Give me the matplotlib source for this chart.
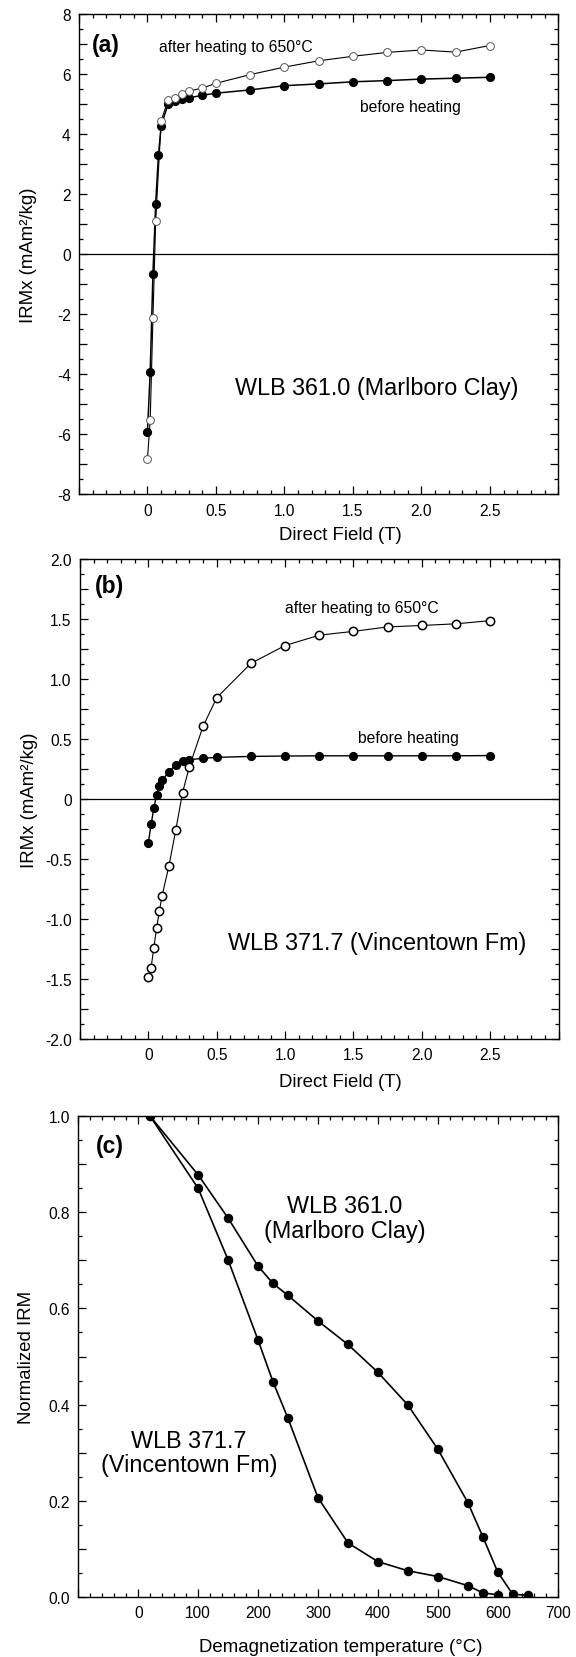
import matplotlib
matplotlib.use("Agg")
import matplotlib.pyplot as plt
from matplotlib.ticker import MultipleLocator, FuncFormatter

plt.rcParams['font.family'] = ['Liberation Sans', 'DejaVu Sans']
plt.rcParams['axes.unicode_minus'] = False

# ---------------- data ----------------
# Panel (a): WLB 361.0 (Marlboro Clay)
a_before_x = [0.0, 0.02, 0.04, 0.06, 0.08, 0.10, 0.15, 0.20, 0.25, 0.30, 0.40, 0.50,
              0.75, 1.00, 1.25, 1.50, 1.75, 2.00, 2.25, 2.50]
a_before_y = [-5.92, -3.92, -0.65, 1.69, 3.30, 4.28, 5.01, 5.11, 5.18, 5.21, 5.30, 5.37,
              5.48, 5.62, 5.68, 5.75, 5.79, 5.84, 5.87, 5.90]
a_after_x = [0.0, 0.02, 0.04, 0.06, 0.10, 0.15, 0.20, 0.25, 0.30, 0.40, 0.50,
             0.75, 1.00, 1.25, 1.50, 1.75, 2.00, 2.25, 2.50]
a_after_y = [-6.82, -5.51, -2.12, 1.11, 4.45, 5.14, 5.22, 5.36, 5.44, 5.54, 5.70,
             5.99, 6.24, 6.45, 6.60, 6.73, 6.81, 6.74, 6.96]

# Panel (b): WLB 371.7 (Vincentown Fm)
b_before_x = [0.0, 0.02, 0.04, 0.06, 0.08, 0.10, 0.15, 0.20, 0.25, 0.30, 0.40, 0.50,
              0.75, 1.00, 1.25, 1.50, 1.75, 2.00, 2.25, 2.50]
b_before_y = [-0.365, -0.21, -0.078, 0.035, 0.11, 0.155, 0.226, 0.285, 0.313, 0.328, 0.339, 0.347,
              0.355, 0.358, 0.360, 0.360, 0.360, 0.360, 0.360, 0.362]
b_after_x = [0.0, 0.02, 0.04, 0.06, 0.08, 0.10, 0.15, 0.20, 0.25, 0.30, 0.40, 0.50,
             0.75, 1.00, 1.25, 1.50, 1.75, 2.00, 2.25, 2.50]
b_after_y = [-1.48, -1.405, -1.239, -1.078, -0.936, -0.808, -0.561, -0.261, 0.053, 0.269, 0.605, 0.844,
             1.130, 1.279, 1.365, 1.397, 1.434, 1.446, 1.460, 1.486]

# Panel (c): thermal demagnetization of IRM
c_marl_t = [20, 100, 150, 200, 225, 250, 300, 350, 400, 450, 500, 550, 575, 600, 625, 650]
c_marl_m = [1.0, 0.878, 0.788, 0.688, 0.652, 0.627, 0.574, 0.525, 0.467, 0.399, 0.307,
            0.196, 0.125, 0.051, 0.005, 0.003]
c_vinc_t = [20, 100, 150, 200, 225, 250, 300, 350, 400, 450, 500, 550, 575, 600]
c_vinc_m = [1.0, 0.850, 0.701, 0.534, 0.447, 0.371, 0.206, 0.112, 0.073, 0.054, 0.042,
            0.023, 0.008, 0.004]

field_ticks = [-0.5, 0.0, 0.5, 1.0, 1.5, 2.0, 2.5, 3.0]
temp_ticks = [-100, 0, 100, 200, 300, 400, 500, 600, 700]

W, H = 576, 1658
fig = plt.figure(figsize=(W / 100, H / 100), dpi=100)


def ax_at(left, top, right, bottom):
    return fig.add_axes([left / W, 1 - bottom / H, (right - left) / W, (bottom - top) / H])


TICK_FS = 11.2
LAB_FS = 13.4
PANEL_FS = 16.5
NOTE_FS = 11.3
NAME_FS = 16.8


def style(ax):
    for s in ax.spines.values():
        s.set_linewidth(1.0)
    ax.tick_params(which='both', direction='in', top=True, right=True, width=0.9,
                   labelsize=TICK_FS, pad=6)
    ax.tick_params(which='major', length=6)
    ax.tick_params(which='minor', length=2.8)


def field_fmt(v, pos):
    if v < -0.01 or v > 2.51:
        return ''
    if abs(v) < 1e-9:
        return '0'
    return '%.1f' % v


# ---------------- (a) ----------------
axa = ax_at(79, 15.3, 558.3, 495.3)
axa.set_xlim(-0.5, 3.0)
axa.set_ylim(-8, 8)
axa.axhline(0, color='black', lw=0.9, zorder=1)
axa.plot(a_before_x, a_before_y, '-', color='black', lw=1.1, marker='o', ms=5.6,
         mfc='black', mec='black', zorder=3)
axa.plot(a_after_x, a_after_y, '-', color='black', lw=0.8, marker='o', ms=5.6,
         mfc='white', mec='#555555', mew=0.7, zorder=4)
axa.xaxis.set_major_locator(plt.FixedLocator(field_ticks))
axa.xaxis.set_major_formatter(FuncFormatter(field_fmt))
axa.xaxis.set_minor_locator(MultipleLocator(0.1))
axa.yaxis.set_major_locator(MultipleLocator(1))
axa.yaxis.set_minor_locator(MultipleLocator(0.5))
axa.yaxis.set_major_formatter(FuncFormatter(
    lambda v, p: ('%d' % round(v)) if round(v) % 2 == 0 else ''))
style(axa)
axa.text(0.0265, 0.938, '(a)', transform=axa.transAxes, fontsize=PANEL_FS,
         fontweight='bold', va='center', ha='left')
axa.text(0.086, 6.92, 'after heating to 650°C', fontsize=NOTE_FS, va='center', ha='left')
axa.text(1.55, 4.92, 'before heating', fontsize=NOTE_FS, va='center', ha='left')
axa.text(0.642, -4.44, 'WLB 361.0 (Marlboro Clay)', fontsize=NAME_FS, va='center', ha='left')
axa.set_xlabel('Direct Field (T)', fontsize=LAB_FS)
axa.set_ylabel('IRMx (mAm²/kg)', fontsize=LAB_FS)
axa.xaxis.set_label_coords(0.545, -0.067)
axa.yaxis.set_label_coords(-0.088, 0.5)

# ---------------- (b) ----------------
axb = ax_at(80, 560, 558.5, 1040)
axb.set_xlim(-0.5, 3.0)
axb.set_ylim(-2.0, 2.0)
axb.axhline(0, color='black', lw=0.9, zorder=1)
axb.plot(b_before_x, b_before_y, '-', color='black', lw=1.0, marker='o', ms=5.6,
         mfc='black', mec='black', zorder=3)
axb.plot(b_after_x, b_after_y, '-', color='black', lw=0.8, marker='o', ms=6.0,
         mfc='white', mec='black', mew=1.1, zorder=4)
axb.xaxis.set_major_locator(plt.FixedLocator(field_ticks))
axb.xaxis.set_major_formatter(FuncFormatter(field_fmt))
axb.xaxis.set_minor_locator(MultipleLocator(0.1))
axb.yaxis.set_major_locator(MultipleLocator(0.25))
axb.yaxis.set_minor_locator(MultipleLocator(0.125))


def bfmt(v, p):
    k = round(v * 4)
    if k % 2 != 0:
        return ''
    if k == 0:
        return '0'
    return '%.1f' % v


axb.yaxis.set_major_formatter(FuncFormatter(bfmt))
style(axb)
axb.text(0.031, 0.945, '(b)', transform=axb.transAxes, fontsize=PANEL_FS,
         fontweight='bold', va='center', ha='left')
axb.text(1.0, 1.598, 'after heating to 650°C', fontsize=NOTE_FS, va='center', ha='left')
axb.text(1.535, 0.513, 'before heating', fontsize=NOTE_FS, va='center', ha='left')
axb.text(0.586, -1.196, 'WLB 371.7 (Vincentown Fm)', fontsize=NAME_FS, va='center', ha='left')
axb.set_xlabel('Direct Field (T)', fontsize=LAB_FS)
axb.set_ylabel('IRMx (mAm²/kg)', fontsize=LAB_FS)
axb.xaxis.set_label_coords(0.545, -0.07)
axb.yaxis.set_label_coords(-0.088, 0.5)

# ---------------- (c) ----------------
axc = ax_at(78.3, 1117.3, 557.7, 1597.7)
axc.set_xlim(-100, 700)
axc.set_ylim(0.0, 1.0)
axc.plot(c_marl_t, c_marl_m, '-', color='black', lw=1.2, marker='o', ms=5.8,
         mfc='black', mec='black', zorder=3)
axc.plot(c_vinc_t, c_vinc_m, '-', color='black', lw=1.2, marker='o', ms=5.8,
         mfc='black', mec='black', zorder=3)
axc.xaxis.set_major_locator(plt.FixedLocator(temp_ticks))
axc.xaxis.set_major_formatter(FuncFormatter(lambda v, p: '' if v < 0 else '%d' % v))
axc.xaxis.set_minor_locator(MultipleLocator(20))
axc.yaxis.set_major_locator(MultipleLocator(0.1))
axc.yaxis.set_minor_locator(MultipleLocator(0.05))
axc.yaxis.set_major_formatter(FuncFormatter(
    lambda v, p: ('%.1f' % v) if round(v * 10) % 2 == 0 else ''))
style(axc)
axc.text(0.036, 0.94, '(c)', transform=axc.transAxes, fontsize=PANEL_FS,
         fontweight='bold', va='center', ha='left')
axc.text(345, 0.789, 'WLB 361.0\n(Marlboro Clay)', fontsize=NAME_FS, va='center',
         ha='center', multialignment='center', linespacing=1.1)
axc.text(85, 0.30, 'WLB 371.7\n(Vincentown Fm)', fontsize=NAME_FS, va='center',
         ha='center', multialignment='center', linespacing=1.1)
axc.set_xlabel('Demagnetization temperature (°C)', fontsize=LAB_FS)
axc.set_ylabel('Normalized IRM', fontsize=LAB_FS)
axc.xaxis.set_label_coords(0.548, -0.085)
axc.yaxis.set_label_coords(-0.090, 0.5)

fig.savefig('out.png', dpi=100)
